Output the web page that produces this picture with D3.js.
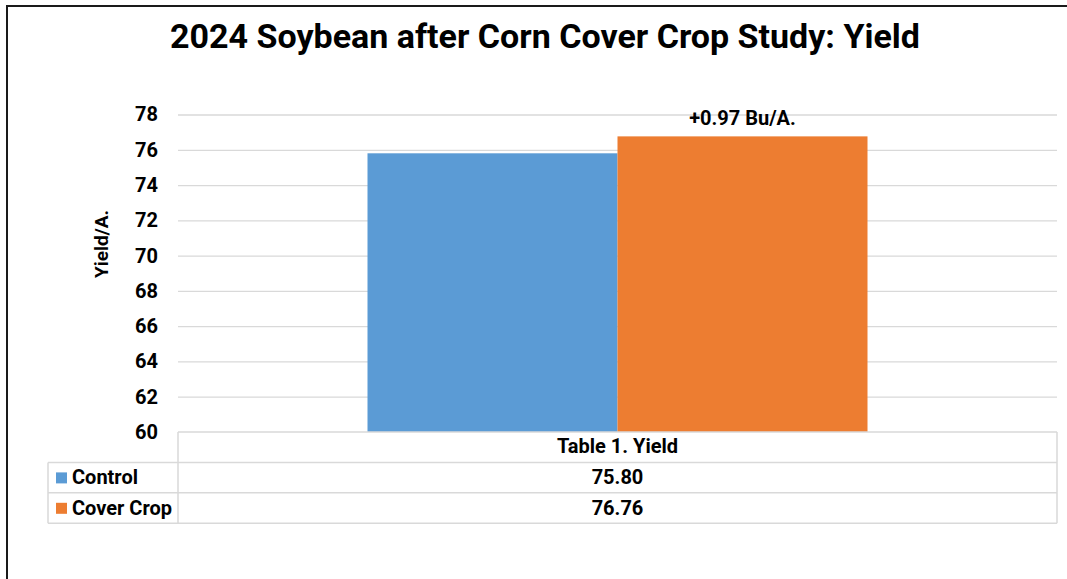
<!DOCTYPE html>
<html><head><meta charset="utf-8">
<script src="https://cdn.jsdelivr.net/npm/d3@7/dist/d3.min.js"></script>
<style>
html,body{margin:0;padding:0;background:#fff;}
svg{display:block;font-family:Roboto, "Liberation Sans", sans-serif;}
</style></head>
<body>
<svg id="c" width="1067" height="579"></svg>
<script>
const title = "2024 Soybean after Corn Cover Crop Study: Yield";
const categories = ["Table 1. Yield"];
const seriesNames = ["Control", "Cover Crop"];
const seriesValues = [75.80, 76.76];
const seriesLabels = ["75.80", "76.76"];
const seriesColors = ["#5B9BD5", "#ED7D31"];
const yTicks = [60, 62, 64, 66, 68, 70, 72, 74, 76, 78];
const yTitle = "Yield/A.";
const annotation = "+0.97 Bu/A.";

const svg = d3.select("#c");
// outer frame (cut off at right and bottom)
svg.append("path").attr("d","M7,580 L7,6 L1068,6").attr("fill","none").attr("stroke","#1a1a1a").attr("stroke-width",2);

const plotL = 178, plotR = 1057, plotT = 114.5, plotB = 432;
const y = d3.scaleLinear().domain([60, 78]).range([plotB, plotT]);
const x = d3.scaleBand().domain(categories).range([plotL, plotR]).paddingInner(0).paddingOuter(0.379);
const xs = d3.scaleBand().domain(seriesNames).range([0, x.bandwidth()]).padding(0);

// gridlines
const yAxis = d3.axisLeft(y).tickValues(yTicks).tickSize(-(plotR - plotL)).tickFormat(d3.format("d"));
const ga = svg.append("g").attr("transform", `translate(${plotL},0)`).call(yAxis);
ga.select(".domain").remove();
ga.selectAll(".tick line").attr("stroke", "#d9d9d9").attr("stroke-width", 1.3)
  .filter(d => d === 60).remove();
ga.selectAll(".tick text").attr("x", -20).attr("fill", "#000")
  .style("font-size", "20px").style("font-weight", "bold").style("font-family", "Roboto");

// bars
const data = seriesNames.map((s, i) => ({ s, v: seriesValues[i], c: seriesColors[i] }));
const gb = svg.append("g");
categories.forEach(cat => {
  gb.selectAll("rect").data(data).join("rect")
    .attr("x", d => x(cat) + xs(d.s))
    .attr("width", xs.bandwidth())
    .attr("y", d => y(d.v))
    .attr("height", d => y(60) - y(d.v))
    .attr("fill", d => d.c);
});

// annotation above cover crop bar
svg.append("text").attr("x", x(categories[0]) + xs("Cover Crop") + xs.bandwidth() / 2)
  .attr("y", 125).attr("text-anchor", "middle")
  .style("font-size", "20px").style("font-weight", "bold").text(annotation);

// title
svg.append("text").attr("x", 545).attr("y", 48).attr("text-anchor", "middle")
  .style("font-size", "34px").style("font-weight", "bold").text(title);

// y title
svg.append("text").attr("transform", "translate(108,244) rotate(-90)")
  .attr("text-anchor", "middle").style("font-size", "19px").style("font-weight", "bold").text(yTitle);

// data table
const tl = 48, rowH = 30.4;
const rows = [plotB, plotB + rowH, plotB + 2 * rowH, plotB + 3 * rowH];
const gt = svg.append("g").attr("stroke", "#d9d9d9").attr("stroke-width", 1.5).attr("fill", "none");
gt.append("line").attr("x1", plotL).attr("x2", plotR).attr("y1", rows[0]).attr("y2", rows[0]);
[1, 2, 3].forEach(i => gt.append("line").attr("x1", tl).attr("x2", plotR).attr("y1", rows[i]).attr("y2", rows[i]));
gt.append("line").attr("x1", plotL).attr("x2", plotL).attr("y1", rows[0]).attr("y2", rows[3]);
gt.append("line").attr("x1", plotR).attr("x2", plotR).attr("y1", rows[0]).attr("y2", rows[3]);
gt.append("line").attr("x1", tl).attr("x2", tl).attr("y1", rows[1]).attr("y2", rows[3]);

const cx = x(categories[0]) + x.bandwidth() / 2;
svg.append("text").attr("x", cx).attr("y", rows[0] + 21).attr("text-anchor", "middle")
  .style("font-size", "20px").style("font-weight", "bold").text(categories[0]);
data.forEach((d, i) => {
  const top = rows[i + 1];
  svg.append("rect").attr("x", 56).attr("y", top + 10).attr("width", 11).attr("height", 11).attr("fill", d.c);
  svg.append("text").attr("x", 72).attr("y", top + 22)
    .style("font-size", "20px").style("font-weight", "bold").text(d.s);
  svg.append("text").attr("x", cx).attr("y", top + 22).attr("text-anchor", "middle")
    .style("font-size", "20px").style("font-weight", "bold").text(seriesLabels[i]);
});
</script>
</body></html>
